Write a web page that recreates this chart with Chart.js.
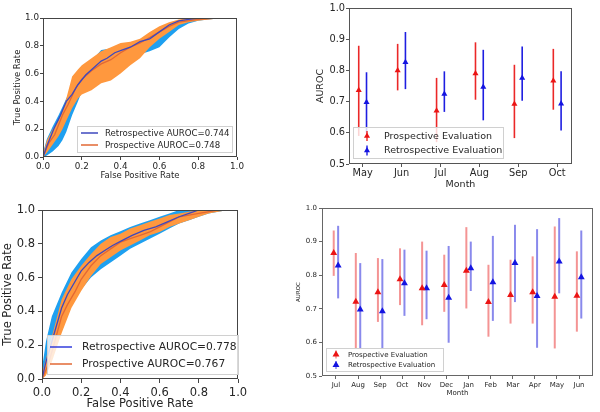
<!DOCTYPE html>
<html>
<head>
<meta charset="utf-8">
<script src="https://cdn.jsdelivr.net/npm/chart.js@4.4.1/dist/chart.umd.min.js"></script>
<style>
  body { margin: 0; background: #fff; width: 600px; height: 412px; position: relative; overflow: hidden; }
  canvas { position: absolute; }
</style>
</head>
<body>
<canvas id="roc1" width="300" height="200" style="left:0;top:0"></canvas>
<canvas id="month6" width="300" height="200" style="left:300px;top:0"></canvas>
<canvas id="roc2" width="294" height="212" style="left:0;top:200px"></canvas>
<canvas id="month12" width="306" height="212" style="left:294px;top:200px"></canvas>
<script>
// ---- top-left ROC ----
const band1X   = [0, .02, .05, .08, .10, .12, .15, .18, .20, .25, .30, .35, .40, .45, .50, .55, .60, .65, .70, .75, .80, .85, .93];
const pro1Hi   = [.02, .12, .20, .26, .33, .42, .58, .63, .66, .71, .76, .79, .82, .83, .85, .90, .94, .97, .99, 1, 1, 1, 1];
const pro1Lo   = [0, .03, .09, .15, .20, .26, .35, .42, .45, .48, .53, .55, .60, .66, .71, .79, .85, .90, .95, .97, .98, .99, 1];
const ret1Hi   = [.03, .13, .22, .30, .36, .42, .50, .57, .62, .69, .77, .78, .80, .82, .84, .88, .92, .95, .97, .99, 1, 1, 1];
const ret1Lo   = [0, .01, .04, .08, .12, .18, .30, .40, .47, .54, .60, .63, .68, .72, .74, .76, .79, .86, .92, .96, .98, .99, 1];
const ret1X    = [0, .02, .055, .09, .12, .15, .18, .22, .26, .30, .33, .37, .41, .45, .50, .55, .60, .65, .70, .75, .80, .85, .93];
const ret1Y    = [0, .08, .20, .30, .40, .45, .52, .59, .64, .69, .71, .75, .77, .79, .83, .85, .90, .95, .98, .99, 1, 1, 1];
const pro1X    = [0, .03, .06, .10, .13, .17, .20, .25, .30, .35, .40, .45, .50, .55, .60, .65, .70, .80, .90, .93];
const pro1Y    = [0, .10, .16, .30, .38, .50, .56, .62, .67, .70, .75, .79, .82, .86, .90, .94, .97, .99, 1, 1];

// ---- bottom-left ROC ----
const band2X   = [0, .02, .05, .10, .15, .20, .25, .30, .35, .40, .45, .50, .55, .60, .65, .70, .75, .80, .85, .90, .95];
const pro2Hi   = [.03, .12, .25, .47, .59, .67, .74, .80, .84, .86, .89, .91, .93, .95, .97, .98, .99, 1, 1, 1, 1];
const pro2Lo   = [0, .02, .10, .27, .42, .52, .61, .68, .72, .76, .79, .82, .85, .87, .90, .92, .94, .96, .98, .99, 1];
const ret2Hi   = [.06, .22, .37, .51, .63, .71, .78, .82, .85, .875, .90, .92, .94, .96, .98, 1, 1, 1, 1, 1, 1];
const ret2Lo   = [0, .03, .12, .30, .44, .53, .60, .65, .69, .73, .77, .80, .83, .86, .89, .92, .94, .96, .98, .99, 1];
const ret2X    = [0, .02, .045, .07, .10, .13, .17, .20, .24, .28, .32, .36, .41, .46, .52, .58, .64, .70, .75, .80, .95];
const ret2Y    = [0, .10, .20, .30, .42, .50, .58, .64, .69, .73, .76, .79, .82, .85, .88, .90, .93, .96, .98, 1, 1];
const pro2X    = [0, .03, .06, .10, .13, .17, .20, .25, .30, .35, .40, .45, .50, .55, .60, .65, .70, .75, .80, .90, .95];
const pro2Y    = [0, .08, .20, .37, .44, .52, .59, .67, .73, .77, .81, .83, .85, .87, .90, .93, .96, .97, .98, 1, 1];

// ---- top-right: monthly AUROC (6 months) ----
const months6 = ['May', 'Jun', 'Jul', 'Aug', 'Sep', 'Oct'];
const pro6    = [0.736, 0.800, 0.671, 0.790, 0.692, 0.767];
const pro6Lo  = [0.590, 0.736, 0.570, 0.706, 0.583, 0.674];
const pro6Hi  = [0.879, 0.885, 0.776, 0.890, 0.818, 0.869];
const ret6    = [0.698, 0.826, 0.724, 0.747, 0.776, 0.693];
const ret6Lo  = [0.600, 0.740, 0.667, 0.640, 0.703, 0.607];
const ret6Hi  = [0.794, 0.923, 0.797, 0.866, 0.877, 0.797];

// ---- bottom-right: monthly AUROC (12 months) ----
const months12 = ['Jul', 'Aug', 'Sep', 'Oct', 'Nov', 'Dec', 'Jan', 'Feb', 'Mar', 'Apr', 'May', 'Jun'];
const pro12    = [0.866, 0.721, 0.749, 0.788, 0.761, 0.771, 0.813, 0.720, 0.741, 0.749, 0.736, 0.739];
const pro12Lo  = [0.798, 0.580, 0.661, 0.711, 0.651, 0.691, 0.701, 0.617, 0.656, 0.656, 0.582, 0.632];
const pro12Hi  = [0.933, 0.866, 0.851, 0.880, 0.900, 0.861, 0.943, 0.831, 0.846, 0.856, 0.945, 0.871];
const ret12    = [0.829, 0.698, 0.693, 0.776, 0.761, 0.733, 0.821, 0.779, 0.836, 0.738, 0.841, 0.794];
const ret12Lo  = [0.731, 0.580, 0.580, 0.679, 0.669, 0.599, 0.753, 0.664, 0.720, 0.584, 0.746, 0.671];
const ret12Hi  = [0.947, 0.836, 0.848, 0.876, 0.873, 0.887, 0.900, 0.917, 0.950, 0.937, 0.970, 0.933];

const FONT = 'DejaVu Sans';
const TXT = '#262626';
const BLUE_BAND = 'rgb(30,160,240)';
const ORANGE_BAND = 'rgb(255,152,62)';
const BLUE_LINE = 'rgb(62,72,190)';
const ORANGE_LINE = 'rgb(226,104,52)';

const xy = (xs, ys) => xs.map((x, i) => ({ x: x, y: ys[i] }));
const pts = (vals, off) => vals.map((v, i) => ({ x: i + off, y: v }));

// box round the plot area, like matplotlib spines
const frame = {
  id: 'frame',
  afterDatasetsDraw(chart, args, opts) {
    const { ctx, chartArea: a } = chart;
    ctx.save();
    ctx.strokeStyle = opts.color || '#333';
    ctx.lineWidth = 1;
    ctx.strokeRect(Math.round(a.left) + 0.5, Math.round(a.top) + 0.5,
      Math.round(a.right - a.left) - 1, Math.round(a.bottom - a.top) - 1);
    ctx.restore();
  }
};

// vertical error bars, from lo/hi stored on the dataset
const errorBars = {
  id: 'errorBars',
  beforeDatasetDraw(chart, args) {
    const ds = chart.data.datasets[args.index];
    if (!ds.lo) return;
    const { ctx, scales: { x, y } } = chart;
    ctx.save();
    ctx.strokeStyle = ds.barColor;
    ctx.lineWidth = ds.barWidth;
    ds.data.forEach((p, i) => {
      const px = x.getPixelForValue(p.x);
      ctx.beginPath();
      ctx.moveTo(px, y.getPixelForValue(ds.lo[i]));
      ctx.lineTo(px, y.getPixelForValue(ds.hi[i]));
      ctx.stroke();
    });
    ctx.restore();
  }
};

function triangle(ctx, x, y, r, color) {
  ctx.fillStyle = color;
  ctx.beginPath();
  ctx.moveTo(x, y - r);
  ctx.lineTo(x - r * 0.87, y + r * 0.5);
  ctx.lineTo(x + r * 0.87, y + r * 0.5);
  ctx.closePath();
  ctx.fill();
}

// legend box drawn inside the axes
const boxLegend = {
  id: 'boxLegend',
  afterDraw(chart, args, o) {
    if (!o.rows) return;
    const ctx = chart.ctx;
    ctx.save();
    ctx.globalAlpha = 0.8;
    ctx.fillStyle = '#fff';
    ctx.fillRect(o.box[0], o.box[1], o.box[2], o.box[3]);
    ctx.globalAlpha = 1;
    ctx.strokeStyle = '#d0d0d0';
    ctx.lineWidth = 1;
    ctx.strokeRect(o.box[0] + 0.5, o.box[1] + 0.5, o.box[2], o.box[3]);
    ctx.font = o.size + 'px "' + FONT + '"';
    ctx.textBaseline = 'middle';
    ctx.fillStyle = TXT;
    o.rows.forEach(r => {
      if (r.kind === 'line') {
        ctx.strokeStyle = r.color;
        ctx.lineWidth = 1.5;
        ctx.beginPath();
        ctx.moveTo(o.mark[0], r.y);
        ctx.lineTo(o.mark[1], r.y);
        ctx.stroke();
      } else {
        ctx.strokeStyle = r.bar;
        ctx.lineWidth = o.barW;
        ctx.beginPath();
        ctx.moveTo(o.mark[0], r.y - o.barH);
        ctx.lineTo(o.mark[0], r.y + o.barH);
        ctx.stroke();
        triangle(ctx, o.mark[0], r.y, o.tri, r.color);
      }
      ctx.fillStyle = TXT;
      ctx.fillText(r.label, o.textX, r.y + 0.5);
    });
    ctx.restore();
  }
};

function axis(o) {
  return {
    type: 'linear',
    min: o.min, max: o.max,
    afterFit: s => { if (o.w) s.width = o.w; if (o.h) s.height = o.h; },
    afterBuildTicks: s => { if (o.at) s.ticks = o.at.map(v => ({ value: v })); },
    grid: { display: true, drawOnChartArea: false, drawTicks: true, tickLength: o.tl, color: o.frame },
    border: { display: false },
    ticks: {
      font: { family: FONT, size: o.size }, color: TXT, padding: o.pad,
      maxRotation: 0, autoSkip: false,
      callback: o.label
    },
    title: { display: true, text: o.title, color: TXT, font: { family: FONT, size: o.tsize }, padding: o.tpad }
  };
}

function rocChart(id, d, L) {
  const fix = v => v.toFixed(1);
  const ticks = [0, 0.2, 0.4, 0.6, 0.8, 1.0];
  new Chart(document.getElementById(id), {
    type: 'scatter',
    data: {
      datasets: [
        { data: xy(d.retX, d.retY), showLine: true, borderColor: BLUE_LINE, borderWidth: 1.3, pointRadius: 0, order: 0 },
        { data: xy(d.proX, d.proY), showLine: true, borderColor: ORANGE_LINE, borderWidth: 1.3, pointRadius: 0, order: 1 },
        { data: xy(d.bandX, d.proHi), showLine: true, borderWidth: 0, pointRadius: 0, fill: 3, backgroundColor: ORANGE_BAND, order: 2 },
        { data: xy(d.bandX, d.proLo), showLine: true, borderWidth: 0, pointRadius: 0, order: 2 },
        { data: xy(d.bandX, d.retHi), showLine: true, borderWidth: 0, pointRadius: 0, fill: 5, backgroundColor: BLUE_BAND, order: 4 },
        { data: xy(d.bandX, d.retLo), showLine: true, borderWidth: 0, pointRadius: 0, order: 4 }
      ]
    },
    options: {
      responsive: false, animation: false,
      layout: { padding: L.pad },
      plugins: { legend: { display: false }, tooltip: { enabled: false },
        frame: { color: '#444' }, boxLegend: L.legend },
      scales: {
        x: axis({ min: 0, max: 1, h: L.xh, at: ticks, label: fix, tl: L.tl, pad: L.tp, size: L.size, tsize: L.tsize, tpad: L.tpad, title: 'False Positive Rate', frame: '#444' }),
        y: axis({ min: 0, max: 1, w: L.yw, at: ticks, label: fix, tl: L.tl, pad: L.tp, size: L.size, tsize: L.tsize, tpad: L.tpad, title: 'True Positive Rate', frame: '#444' })
      }
    },
    plugins: [frame, boxLegend]
  });
}

function monthChart(id, m, L) {
  new Chart(document.getElementById(id), {
    type: 'scatter',
    data: {
      datasets: [
        { data: pts(m.pro, -0.1), lo: m.proLo, hi: m.proHi, barColor: L.redBar, barWidth: L.barW,
          pointStyle: 'triangle', pointRadius: L.r, backgroundColor: 'rgb(235,20,20)', borderColor: 'rgb(235,20,20)', borderWidth: 0 },
        { data: pts(m.ret, 0.1), lo: m.retLo, hi: m.retHi, barColor: L.blueBar, barWidth: L.barW,
          pointStyle: 'triangle', pointRadius: L.r, backgroundColor: 'rgb(20,20,225)', borderColor: 'rgb(20,20,225)', borderWidth: 0 }
      ]
    },
    options: {
      responsive: false, animation: false,
      layout: { padding: L.pad },
      plugins: { legend: { display: false }, tooltip: { enabled: false },
        frame: { color: L.frame }, boxLegend: L.legend },
      scales: {
        x: axis({ min: L.xmin, max: L.xmax, h: L.xh, at: m.months.map((_, i) => i), label: v => m.months[v],
          tl: L.tl, pad: L.tp, size: L.size, tsize: L.tsize, tpad: L.tpad, title: 'Month', frame: L.frame }),
        y: axis({ min: 0.5, max: 1.0, w: L.yw, at: [0.5, 0.6, 0.7, 0.8, 0.9, 1.0], label: v => v.toFixed(1),
          tl: L.tl, pad: L.tp, size: L.size, tsize: L.ytsize, tpad: L.tpad, title: 'AUROC', frame: L.frame })
      }
    },
    plugins: [frame, errorBars, boxLegend]
  });
}

rocChart('roc1',
  { bandX: band1X, proHi: pro1Hi, proLo: pro1Lo, retHi: ret1Hi, retLo: ret1Lo, retX: ret1X, retY: ret1Y, proX: pro1X, proY: pro1Y },
  { pad: { left: 9, top: 18, right: 63, bottom: 15 }, yw: 34, xh: 28, tl: 3, tp: 1, size: 8.8, tsize: 8.5, tpad: 4,
    legend: { box: [77, 126, 155, 26], size: 8.6, mark: [81, 98], textX: 105,
      rows: [{ kind: 'line', color: BLUE_LINE, label: 'Retrospective AUROC=0.744', y: 133 },
             { kind: 'line', color: ORANGE_LINE, label: 'Prospective AUROC=0.748', y: 145 }] } });

rocChart('roc2',
  { bandX: band2X, proHi: pro2Hi, proLo: pro2Lo, retHi: ret2Hi, retLo: ret2Lo, retX: ret2X, retY: ret2Y, proX: pro2X, proY: pro2Y },
  { pad: { left: 1, top: 10, right: 56, bottom: 1 }, yw: 41, xh: 32, tl: 4, tp: 3, size: 11.5, tsize: 11.5, tpad: 0,
    legend: { box: [47, 135, 191, 39], size: 10.7, mark: [50, 72], textX: 82,
      rows: [{ kind: 'line', color: 'rgb(50,60,220)', label: 'Retrospective AUROC=0.778', y: 147 },
             { kind: 'line', color: ORANGE_LINE, label: 'Prospective AUROC=0.767', y: 164 }] } });

monthChart('month6',
  { months: months6, pro: pro6, proLo: pro6Lo, proHi: pro6Hi, ret: ret6, retLo: ret6Lo, retHi: ret6Hi },
  { pad: { left: 11, top: 8, right: 28, bottom: 6 }, yw: 38, xh: 30, xmin: -0.35, xmax: 5.38,
    tl: 3, tp: 1, size: 9.8, tsize: 9.5, ytsize: 9.5, tpad: 4, r: 3.5, barW: 1.6,
    redBar: 'rgb(235,40,40)', blueBar: 'rgb(30,30,225)', frame: '#555',
    legend: { box: [53, 127, 150, 31], size: 9.5, mark: [67], textX: 84, tri: 3.5, barH: 5, barW: 1.4,
      rows: [{ kind: 'marker', color: 'rgb(235,20,20)', bar: 'rgb(235,40,40)', label: 'Prospective Evaluation', y: 136 },
             { kind: 'marker', color: 'rgb(20,20,225)', bar: 'rgb(30,30,225)', label: 'Retrospective Evaluation', y: 150.5 }] } });

monthChart('month12',
  { months: months12, pro: pro12, proLo: pro12Lo, proHi: pro12Hi, ret: ret12, retLo: ret12Lo, retHi: ret12Hi },
  { pad: { left: 1.5, top: 8, right: 7, bottom: 14.5 }, yw: 26.5, xh: 21.5, xmin: -0.63, xmax: 11.63,
    tl: 3, tp: 2, size: 7, tsize: 7, ytsize: 5.5, tpad: 0, r: 4, barW: 2,
    redBar: 'rgba(235,60,60,0.55)', blueBar: 'rgba(40,40,220,0.55)', frame: '#666',
    legend: { box: [32, 148, 117, 23], size: 7, mark: [42], textX: 54, tri: 4, barH: 4, barW: 1.5,
      rows: [{ kind: 'marker', color: 'rgb(235,20,20)', bar: 'rgba(235,60,60,0.55)', label: 'Prospective Evaluation', y: 154.5 },
             { kind: 'marker', color: 'rgb(20,20,225)', bar: 'rgba(40,40,220,0.55)', label: 'Retrospective Evaluation', y: 165 }] } });
</script>
</body>
</html>
